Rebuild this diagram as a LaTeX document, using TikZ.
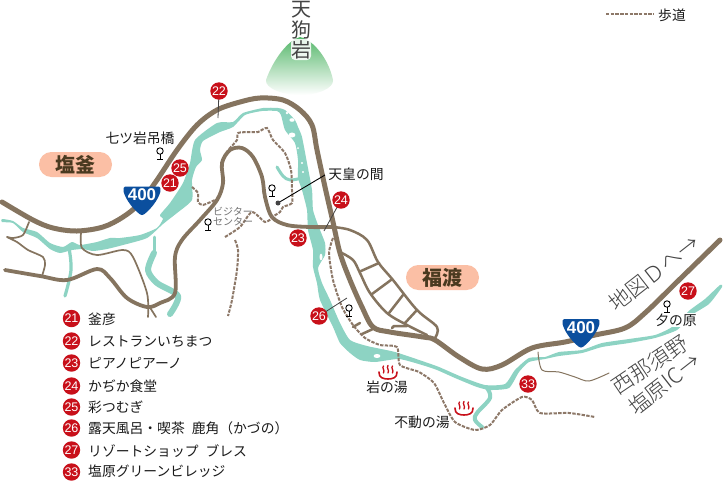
\documentclass[tikz,border=0pt]{standalone}
\usepackage{fontspec}
\setmainfont{Noto Sans CJK JP}
\newfontfamily\latinfont{Liberation Sans}
\newfontfamily\lightfont{Noto Sans CJK JP Light}
\definecolor{roadc}{HTML}{85745F}
\definecolor{riverc}{HTML}{8DD3C3}
\definecolor{pathc}{HTML}{8D7868}
\definecolor{redc}{HTML}{C8101A}
\definecolor{pillc}{HTML}{FBBFA5}
\definecolor{pilltext}{HTML}{4A3A20}
\definecolor{bluec}{HTML}{0B4F9E}
\definecolor{inkc}{HTML}{1A1A1A}
\definecolor{softc}{HTML}{444444}
\definecolor{peakc}{HTML}{55B76A}
\definecolor{slopec}{HTML}{D2E76C}
\tikzset{
  mainroad/.style={draw=roadc,line width=5pt,line join=round,line cap=round},
  midroad/.style={draw=roadc,line width=3.8pt,line join=round,line cap=round},
  sideroad/.style={draw=roadc,line width=2.5pt,line join=round,line cap=round},
  smallroad/.style={draw=roadc,line width=1.7pt,line join=round,line cap=round},
  thinroad/.style={draw=roadc,line width=1pt,line cap=round},
  footpath/.style={draw=pathc,line width=2pt,dash pattern=on 3.4pt off 1.3pt},
  riverline/.style={draw=riverc,line width=#1,line cap=round,line join=round},
  leader/.style={draw=softc,line width=.8pt},
  mk/.style={circle,fill=redc,inner sep=0pt,minimum size=17.4pt,text=white,font=\latinfont\fontsize{12.5}{13}\selectfont},
  lab/.style={text=inkc,inner sep=0pt,font=\fontsize{13.8}{15}\selectfont},
  legendlab/.style={lab,anchor=west},
  pill/.style={rounded corners=12.4pt,fill=pillc,minimum width=73pt,minimum height=25pt,inner sep=0pt,text=pilltext,font=\bfseries\fontsize{20}{22}\selectfont},
  rotlab/.style={text=softc,inner sep=0pt,font=\lightfont\fontsize{21.5}{23}\selectfont},
  peaklab/.style={inner sep=0pt,text=softc,font=\fontsize{20}{20}\selectfont},
  shieldtext/.style={text=white,inner sep=0pt,font=\latinfont\bfseries\fontsize{17}{18}\selectfont},
  shieldpic/.pic={
    \fill[bluec] (-17,-8.5) -- (17,-8.5) .. controls (18.5,-8.5) and (19,-6) .. (18.3,-3)
      .. controls (16,5) and (9,14) .. (2,19.4) .. controls (1,20.2) and (-1,20.2) .. (-2,19.4)
      .. controls (-9,14) and (-16,5) .. (-18.3,-3) .. controls (-19,-6) and (-18.5,-8.5) .. (-17,-8.5) -- cycle;
  },
  pinpic/.pic={
    \draw[black,line width=.9pt] (0,-3) circle (3.2);
    \draw[black,line width=.9pt] (0,.2) -- (0,5) (-3,5) -- (3,5);
  },
  onsenpic/.pic={
    \draw[redc,line width=1.3pt,line cap=round] (-4.5,-6) .. controls (-6.5,-4) and (-2.8,-2) .. (-4.5,1);
    \draw[redc,line width=1.3pt,line cap=round] (0,-6.5) .. controls (-2,-4) and (1.8,-2) .. (0,1);
    \draw[redc,line width=1.3pt,line cap=round] (4.5,-6) .. controls (2.5,-4) and (6.2,-2) .. (4.5,1);
    \draw[redc,line width=1.6pt,line cap=round] (-9,0) .. controls (-9.5,6) and (-4,7) .. (0,7) .. controls (4,7) and (9.5,6) .. (9,0);
  }
}
\begin{document}
\begin{tikzpicture}[x=1pt,y=-1pt]
\useasboundingbox (0,0) rectangle (724,480);
\fill[white] (0,0) rectangle (724,480);

% mountain
\shade[top color=peakc,middle color=slopec,bottom color=white]
  (266,80) .. controls (273,60) and (288,40) .. (300,37)
  .. controls (314,40) and (329,60) .. (333,80)
  .. controls (334,88) and (318,95) .. (300,95)
  .. controls (282,95) and (265,88) .. (266,80) -- cycle;

% river body
\fill[riverc] plot[smooth cycle,tension=.35] coordinates {
 (2,219) (13,221) (23,228) (37,232) (50,243) (63,247) (72,242) (80,245) (97,242) (110,238) (120,238)
 (140,235) (157,228) (163,219) (160,215) (170,203) (183,183)
 (190,163) (195,140) (217,123) (233,122) (243,113) (263,108) (278,108) (285,110) (295,120) (298,127)
 (302,137) (307,163) (312,190) (313,210) (318,225) (325,243) (325,255) (318,268) (322,283) (330,300)
 (340,323) (350,340) (367,346) (395,352) (425,362) (439,367) (462,377) (485,385) (505,384) (515,370)
 (529,358) (545,357) (559,352) (582,350) (602,343) (629,339) (655,335) (672,327) (690,310) (705,299) (720,285)
 (722,287) (709,304) (690,316) (677,330) (655,338) (629,343) (602,347) (582,353) (559,356) (545,359)
 (529,362) (519,372) (509,388) (490,390) (477,387) (455,378) (437,370) (422,365) (399,359)
 (375,362) (360,360) (350,353) (340,343) (333,327) (320,300) (317,283) (313,267) (313,250) (308,230)
 (307,210) (302,190) (298,178) (298,160) (295,143) (285,130) (281,115) (277,111) (262,111) (245,115)
 (233,127) (220,132) (203,141) (200,150) (202,160) (196,167) (192,180) (192,200) (177,213) (163,224)
 (147,238) (123,245) (107,249) (93,251) (83,249) (72,250) (60,253) (50,249) (37,238) (23,232) (13,223) (2,222)};
% river side branches
\draw[riverline=3.2pt] plot[smooth,tension=.6] coordinates {(69,248) (71,270) (65,296)};
\draw[riverline=3pt] (154,237) -- (154,253);
\draw[riverline=6pt] plot[smooth,tension=.5] coordinates {(154,253) (148,270) (157,283) (178,296) (170,314)};
\draw[riverline=3pt] plot[smooth,tension=.6] coordinates {(277,167) (283,176) (290,180) (302,178)};
\draw[riverline=4pt] plot[smooth,tension=.6] coordinates {(487,388) (490,398) (477,413) (475,420) (482,427)};
% river islands
\fill[white] (287,113) circle (1.4) (292,120) ellipse (2.6 and 1.8) (292,135) ellipse (3.4 and 2.5)
  (298,148) circle (1) (302,163) circle (1.2) (303,172) circle (1.2) (321,257) ellipse (1.5 and 3.4) (377,356) ellipse (3.4 and 2);

% thin and side roads
\draw[thinroad] plot[smooth,tension=.5] coordinates {(538,352) (542,370) (559,372) (575,377) (589,381) (609,373)};
\draw[smallroad] plot[smooth,tension=.5] coordinates {(81,233) (82,248) (97,255) (123,250) (133,257) (147,293) (148,317)};
\draw[smallroad] (149,306) -- (156,317);
\draw[smallroad] plot[smooth,tension=.45] coordinates {(29,222) (23,235) (13,238) (7,237) (17,242) (28,250) (43,257) (45,265) (42,276)};

% second road and the grid by Fukuwata
\draw[midroad] plot[smooth,tension=.55] coordinates {(5,270) (40,276) (67,280) (97,269) (110,278)
 (127,298) (147,307) (160,303) (175,293) (175,257) (182,240) (200,220) (217,200) (223,183) (222,163)
 (230,150) (242,148) (253,157) (262,177) (265,197) (272,217) (287,225) (310,227) (333,227)};
\draw[sideroad] plot[smooth,tension=.55] coordinates {(333,227) (350,230) (367,240) (378,262) (393,280) (417,310) (437,327) (435,338)};
\draw[sideroad] plot[smooth,tension=.55] coordinates {(340,252) (353,260) (360,273) (370,293) (387,313) (407,325) (427,335)};
\draw[sideroad] (361,271) -- (379,263) (372,294) -- (391,280) (389,313) -- (403,295) (405,323) -- (417,310);
\draw[sideroad] (392,328) -- (394,326) -- (407,326) (362,334) -- (373,329) (353,327) -- (360,323);

% main road
\draw[mainroad] plot[smooth,tension=.55] coordinates {(2,202) (33,220) (53,228) (77,231) (103,227) (123,217)
 (140,203) (157,180) (177,150) (197,125) (217,110) (240,102) (260,98) (283,100) (300,110) (312,125)
 (317,150) (325,187) (333,222) (340,253) (350,280) (362,307) (373,327) (390,332) (423,337) (435,340)
 (459,357) (482,369) (502,365) (532,348) (565,342) (595,335) (625,328) (645,313) (679,280) (720,240)};

% footpaths
\draw[footpath] plot[smooth,tension=.4] coordinates {(229,149) (237,140) (238,133) (250,132) (258,132) (267,128)
 (273,140) (285,153) (291,170) (292,190) (292,203) (283,207) (280,212) (272,217)};
\draw[footpath] plot[smooth,tension=.4] coordinates {(192,187) (198,193) (198,202) (203,205) (215,200)};
\draw[footpath] plot[smooth,tension=.4] coordinates {(225,237) (240,227) (252,212) (265,222) (272,218)};
\draw[footpath] plot[smooth,tension=.4] coordinates {(235,240) (238,250) (237,270) (232,300) (228,316)};
\draw[footpath] plot[smooth,tension=.4] coordinates {(333,238) (329,253) (333,280) (342,307) (353,325) (365,338)
 (380,345) (397,347) (400,365) (419,372) (434,383) (444,403) (455,422) (475,430) (490,425) (502,410)
 (522,397) (532,400) (540,413) (569,413) (595,417)};
\coordinate (keyA) at (606,14);
\coordinate (keyB) at (654,14);
\draw[footpath] (keyA) -- (keyB);
\node[lab] (keytext) at (672,15.5) {歩道};

% mountain name
\fill[white,opacity=.85,rounded corners=4pt] (291,39) rectangle (311,60);
\node[peaklab] (mtA) at (301,10) {天};
\node[peaklab] (mtB) at (301,30) {狗};
\node[peaklab] (mtC) at (301,50) {岩};

% area pills
\node[pill] (shiogama) at (75.5,164.5) {塩釜};
\node[pill] (fukuwata) at (442.5,277.5) {福渡};

% pins
\pic at (160,154) {pinpic};
\pic at (272,191) {pinpic};
\pic at (208,225) {pinpic};
\pic at (349,311) {pinpic};
\pic at (667,307) {pinpic};

% place names
\node[lab] (bridge) at (140,138) {七ツ岩吊橋};
\node[lab] (tenno) at (356,174) {天皇の間};
\coordinate (tennoEnd) at (325,175);
\node[circle,fill=softc,inner sep=0pt,minimum size=5pt] (tennoDot) at (278,203) {};
\draw[draw=black,line width=.9pt] (tennoDot) -- (tennoEnd);
\node[lab,text=black!55,font=\fontsize{10}{11}\selectfont] (visitA) at (233,212) {ビジター};
\node[lab,text=black!55,font=\fontsize{10}{11}\selectfont] (visitB) at (233,222) {センター};
\node[lab] (iwanoyu) at (387,387) {岩の湯};
\node[lab] (fudo) at (422,422) {不動の湯};
\node[lab,fill=white,inner sep=1pt] (yuunohara) at (676,320) {夕の原};
\pic at (388,372) {onsenpic};
\pic at (464,408) {onsenpic};

% rotated labels
\node[rotlab,rotate=38] (mapD) at (654,273) {地図Ｄへ→};
\node[rotlab,rotate=34] (nishi) at (650,365) {西那須野};
\node[rotlab,rotate=38] (shiobara) at (664,384) {塩原IC→};

% route shields
\pic at (142,195) {shieldpic};
\node[shieldtext] (shieldA) at (142,195) {400};
\pic at (581,327.5) {shieldpic};
\node[shieldtext] (shieldB) at (581,328) {400};

% map markers and their leaders
\coordinate (end22) at (218,118);
\coordinate (end24) at (324,231);
\coordinate (end26) at (347,298);
\draw[leader] (219,91) -- (end22);
\draw[leader] (341,200) -- (end24);
\draw[leader] (319,316) -- (end26);
\node[mk] (m22) at (219,91) {22};
\node[mk] (m21) at (170,183) {21};
\node[mk] (m25) at (180,168) {25};
\node[mk] (m24) at (341,200) {24};
\node[mk] (m23) at (298,238) {23};
\node[mk] (m26) at (319,316) {26};
\node[mk] (m27) at (688,291) {27};
\node[mk] (m33) at (528,384) {33};

% legend
\node[mk] (k21) at (71.5,318.5) {21}; \node[legendlab] (t21) at (88,319) {釜彦};
\node[mk] (k22) at (71.5,341) {22};   \node[legendlab] (t22) at (88,341) {レストランいちまつ};
\node[mk] (k23) at (71.5,363) {23};   \node[legendlab] (t23) at (88,363) {ピアノピアーノ};
\node[mk] (k24) at (71.5,386) {24};   \node[legendlab] (t24) at (88,386) {かぢか食堂};
\node[mk] (k25) at (71.5,407) {25};   \node[legendlab] (t25) at (88,407) {彩つむぎ};
\node[mk] (k26) at (71.5,428) {26};   \node[legendlab] (t26) at (88,428) {露天風呂・喫茶\hspace{7pt}鹿角（かづの）};
\node[mk] (k27) at (71.5,450) {27};   \node[legendlab] (t27) at (88,451) {リゾートショップ\hspace{7pt}ブレス};
\node[mk] (k33) at (71.5,472) {33};   \node[legendlab] (t33) at (88,471) {塩原グリーンビレッジ};
\end{tikzpicture}
\end{document}
